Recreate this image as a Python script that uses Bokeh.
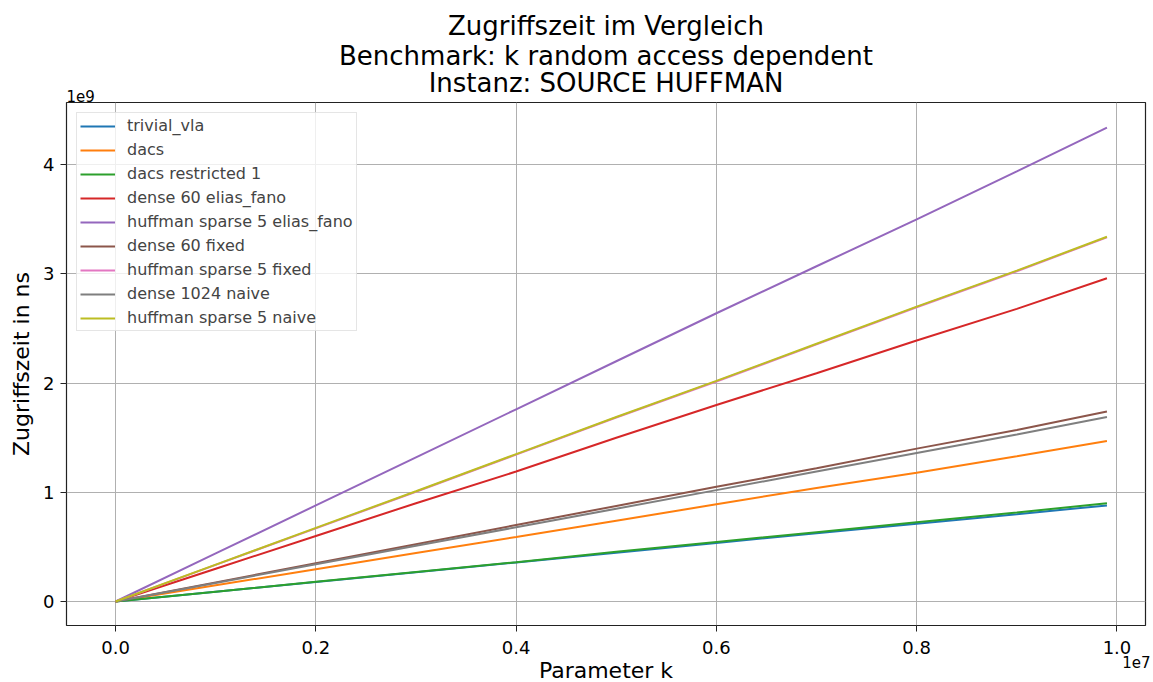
from bokeh.plotting import figure
from bokeh.models import Range1d, FixedTicker, Legend, LegendItem, Title
from bokeh.embed import file_html
from bokeh.resources import INLINE

# k values (number of accesses)
k = [0, 1e6, 2e6, 3e6, 4e6, 5e6, 6e6, 7e6, 8e6, 9e6, 9.9e6]

# access time in ns per variant
trivial_vla = [0, 0.089e9, 0.178e9, 0.268e9, 0.357e9, 0.447e9, 0.536e9, 0.625e9, 0.713e9, 0.800e9, 0.880e9]
dacs = [0, 0.148e9, 0.296e9, 0.445e9, 0.590e9, 0.740e9, 0.890e9, 1.040e9, 1.180e9, 1.330e9, 1.470e9]
dacs_restricted_1 = [0, 0.090e9, 0.180e9, 0.270e9, 0.360e9, 0.455e9, 0.545e9, 0.635e9, 0.725e9, 0.815e9, 0.900e9]
dense_60_elias_fano = [0, 0.300e9, 0.600e9, 0.900e9, 1.190e9, 1.500e9, 1.800e9, 2.090e9, 2.390e9, 2.680e9, 2.960e9]
huffman_sparse_5_elias_fano = [0, 0.440e9, 0.880e9, 1.320e9, 1.760e9, 2.200e9, 2.640e9, 3.070e9, 3.500e9, 3.940e9, 4.340e9]
dense_60_fixed = [0, 0.175e9, 0.350e9, 0.525e9, 0.700e9, 0.875e9, 1.050e9, 1.220e9, 1.400e9, 1.570e9, 1.740e9]
huffman_sparse_5_fixed = [0, 0.335e9, 0.670e9, 1.005e9, 1.345e9, 1.685e9, 2.015e9, 2.355e9, 2.695e9, 3.025e9, 3.335e9]
dense_1024_naive = [0, 0.170e9, 0.340e9, 0.510e9, 0.680e9, 0.850e9, 1.020e9, 1.190e9, 1.360e9, 1.530e9, 1.690e9]
huffman_sparse_5_naive = [0, 0.337e9, 0.674e9, 1.010e9, 1.350e9, 1.690e9, 2.020e9, 2.360e9, 2.700e9, 3.030e9, 3.340e9]

series = [
    ("trivial_vla", trivial_vla, "#1f77b4"),
    ("dacs", dacs, "#ff7f0e"),
    ("dacs restricted 1", dacs_restricted_1, "#2ca02c"),
    ("dense 60 elias_fano", dense_60_elias_fano, "#d62728"),
    ("huffman sparse 5 elias_fano", huffman_sparse_5_elias_fano, "#9467bd"),
    ("dense 60 fixed", dense_60_fixed, "#8c564b"),
    ("huffman sparse 5 fixed", huffman_sparse_5_fixed, "#e377c2"),
    ("dense 1024 naive", dense_1024_naive, "#7f7f7f"),
    ("huffman sparse 5 naive", huffman_sparse_5_naive, "#bcbd22"),
]

x_ticks = [0, 2e6, 4e6, 6e6, 8e6, 10e6]
x_tick_labels = ["0.0", "0.2", "0.4", "0.6", "0.8", "1.0"]
y_ticks = [0, 1e9, 2e9, 3e9, 4e9]
y_tick_labels = ["0", "1", "2", "3", "4"]

title_lines = ["Zugriffszeit im Vergleich", "Benchmark: k random access dependent", "Instanz: SOURCE HUFFMAN"]
title_standoffs = [-16, 12, -21]

FONT = "DejaVu Sans"

p = figure(width=1153, height=682, output_backend="svg", toolbar_location=None,
           x_range=Range1d(-0.49e6, 10.285e6), y_range=Range1d(-0.22e9, 4.57e9),
           min_border_left=66, min_border_right=8, min_border_top=102, min_border_bottom=57)
p.title.visible = False
p.background_fill_color = "white"
p.border_fill_color = "white"
p.outline_line_color = "#222222"
p.outline_line_width = 1.2

renderers = []
for name, ys, color in series:
    r = p.line(k, ys, line_color=color, line_width=2)
    renderers.append((name, r))

# axes
for ax in (p.xaxis[0], p.yaxis[0]):
    ax.axis_line_color = None
    ax.major_tick_in = 0
    ax.major_tick_out = 6
    ax.major_tick_line_color = "#222222"
    ax.minor_tick_line_color = None
    ax.major_label_text_font = FONT
    ax.major_label_text_font_size = "18px"
    ax.major_label_text_color = "black"
    ax.axis_label_text_font = FONT
    ax.axis_label_text_font_size = "22px"
    ax.axis_label_text_font_style = "normal"
    ax.axis_label_text_color = "black"

p.xaxis.ticker = FixedTicker(ticks=x_ticks)
p.xaxis.major_label_overrides = dict(zip(x_ticks, x_tick_labels))
p.yaxis.ticker = FixedTicker(ticks=y_ticks)
p.yaxis.major_label_overrides = dict(zip(y_ticks, y_tick_labels))
p.yaxis.axis_label = "Zugriffszeit in ns"
p.xaxis.major_label_standoff = 9
p.yaxis.major_label_standoff = 6
p.yaxis.axis_label_standoff = 6

p.grid.grid_line_color = "#b0b0b0"
p.grid.grid_line_width = 1

# legend
items = [LegendItem(label=n, renderers=[r]) for n, r in renderers]
legend = Legend(items=items, location="top_left")
legend.label_text_font = FONT
legend.label_text_font_size = "16px"
legend.glyph_width = 35
legend.glyph_height = 18
legend.label_height = 18
legend.spacing = 5
legend.padding = 3
legend.margin = 10
legend.label_standoff = 12
legend.border_line_color = "#cccccc"
legend.border_line_width = 1
legend.background_fill_alpha = 0.8
p.add_layout(legend)

# exponent of the y axis, then the title lines above it (bottom line first)
p.add_layout(Title(text="1e9", align="left", text_font=FONT, text_font_size="15px",
                   text_font_style="normal", text_color="black", standoff=1), "above")
for line, so in reversed(list(zip(title_lines, title_standoffs))):
    p.add_layout(Title(text=line, align="center", text_font=FONT, text_font_size="26px",
                       text_font_style="normal", text_color="black", standoff=so), "above")

# exponent of the x axis, then the x axis label
p.add_layout(Title(text="1e7", align="right", offset=-5, text_font=FONT, text_font_size="15px",
                   text_font_style="normal", text_color="black", standoff=-6), "below")
p.add_layout(Title(text="Parameter k", align="center", text_font=FONT, text_font_size="22px",
                   text_font_style="normal", text_color="black", standoff=-18), "below")

open("out.html", "w").write(file_html(p, INLINE))
